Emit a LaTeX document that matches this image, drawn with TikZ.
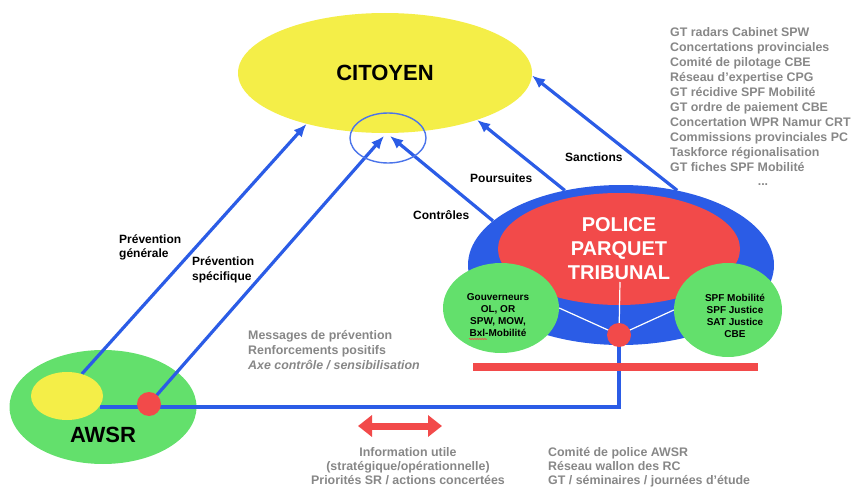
\documentclass[tikz,border=0pt]{standalone}
\usepackage{fontspec}
\setmainfont{Liberation Sans}
\usetikzlibrary{shapes.geometric,arrows.meta,decorations.pathmorphing}
\definecolor{cyell}{HTML}{F4EE48}
\definecolor{cgreen}{HTML}{63E06C}
\definecolor{cblue}{HTML}{2B5CE6}
\definecolor{cred}{HTML}{F24A4A}
\definecolor{cgray}{HTML}{878787}
\pgfdeclarelayer{back}
\pgfdeclarelayer{lines}
\pgfsetlayers{back,lines,main}
\begin{document}
\begin{tikzpicture}[x=1pt,y=-1pt,
  blob/.style={ellipse,inner sep=0pt,draw=none},
  dotnode/.style={circle,fill=cred,minimum size=24pt,inner sep=0pt},
  arr/.style={draw=cblue,line width=3.2pt,-{Latex[length=13pt,width=11pt]}},
  link/.style={draw=cblue,line width=3.2pt},
  fine/.style={draw=white,line width=1.2pt},
  lab/.style={font=\fontsize{12}{14.5}\selectfont\bfseries,inner sep=0pt,align=left,text=black},
  note/.style={font=\fontsize{12.4}{15}\selectfont\bfseries,inner sep=0pt,align=left,text=cgray},
  gtext/.style={font=\fontsize{10}{12.2}\selectfont\bfseries,inner sep=0pt,align=center,text=black},
]
\useasboundingbox (0,0) rectangle (855,487);

\begin{pgfonlayer}{back}
\node[blob,fill=cyell,minimum width=294pt,minimum height=120pt,font=\fontsize{22}{26}\selectfont\bfseries] (cit) at (385,73) {CITOYEN};
\node[blob,fill=cgreen,minimum width=187pt,minimum height=114pt] (awsr) at (103,407) {};
\node[blob,fill=cblue,minimum width=306pt,minimum height=160pt] (pb) at (621,265) {};
\node[blob,fill=cred,minimum width=242pt,minimum height=112pt,text=white,align=center,font=\fontsize{20}{24}\selectfont\bfseries] (ppt) at (619,249) {POLICE\\PARQUET\\TRIBUNAL};
\node[blob,fill=cgreen,minimum width=116pt,minimum height=90pt] (gl) at (501,308) {};
\node[blob,fill=cgreen,minimum width=108pt,minimum height=94pt] (gr) at (728,310) {};
\end{pgfonlayer}

% main layer nodes
\node[ellipse,draw=cblue!85!white,line width=1.4pt,minimum width=76pt,minimum height=50pt,inner sep=0pt] (focus) at (388,138) {};
\node[blob,fill=cyell,minimum width=72pt,minimum height=48pt] (awsrY) at (67,396) {};
\node[dotnode] (adot) at (149,404) {};
\node[dotnode] (rdot) at (619,335) {};
\node[fill=cred,minimum width=285pt,minimum height=8pt,inner sep=0pt] (bar) at (615.5,367) {};
\node[font=\fontsize{22}{26}\selectfont\bfseries] (tawsr) at (103,435) {AWSR};

\node[gtext] (tgl) at (498,315) {Gouverneurs\\OL, OR\\SPW, MOW,\\Bxl-Mobilité};
\node[gtext] (tgr) at (735,316) {SPF Mobilité\\SPF Justice\\SAT Justice\\CBE};
\coordinate (sq1) at (469,339);
\coordinate (sq2) at (487,339);
\draw[cred,line width=0.6pt,decorate,decoration={snake,amplitude=0.6pt,segment length=2.5pt}] (sq1) -- (sq2);

% coordinates
\coordinate (tipA) at (384,136);
\coordinate (tipB) at (390,136);
\coordinate (hl) at (100,407);
\coordinate (wtop) at (620,282);
\coordinate (dl) at (358,426);
\coordinate (dr) at (442,426);

\begin{pgfonlayer}{lines}
\draw[fine] (wtop) -- (rdot.center);
\draw[fine] (gl.east) -- (rdot.center);
\draw[fine] (gr.west) -- (rdot.center);
\draw[link] (rdot.center) |- (hl);
\draw[arr] (awsrY.56) -- (cit.213);
\draw[arr] (adot.center) -- (tipA);
\draw[arr] (pb.161) -- (tipB);
\draw[arr] (pb.127) -- (cit.333);
\draw[arr] (pb.53) -- (cit.359);
\end{pgfonlayer}

\draw[cred,line width=7pt,{Triangle[length=14pt,width=21pt]}-{Triangle[length=14pt,width=21pt]}] (dl) -- (dr);

% labels
\node[lab,anchor=north west] (tpg) at (119,234.3) {Prévention\\générale};
\node[lab,anchor=north west] (tps) at (192,256.5) {Prévention\\spécifique};
\node[lab,anchor=base west] (tctl) at (413,219.3) {Contrôles};
\node[lab,anchor=base west] (tpou) at (470,182.3) {Poursuites};
\node[lab,anchor=base west] (tsan) at (565,161.3) {Sanctions};

\node[note,anchor=north west] (tlist) at (670,27.4) {GT radars Cabinet SPW\\Concertations provinciales\\Comité de pilotage CBE\\Réseau d’expertise CPG\\GT récidive SPF Mobilité\\GT ordre de paiement CBE\\Concertation WPR Namur CRT\\Commissions provinciales PC\\Taskforce régionalisation\\GT fiches SPF Mobilité};
\node[note,anchor=base] (tdots) at (763,185) {...};
\node[note,anchor=north west] (tmsg) at (248,330.4) {Messages de prévention\\Renforcements positifs\\\textit{Axe contrôle / sensibilisation}};
\node[note,anchor=north,align=center,font=\fontsize{12.4}{14}\selectfont\bfseries] (tinfo) at (408,447.4) {Information utile\\(stratégique/opérationnelle)\\Priorités SR / actions concertées};
\node[note,anchor=north west,font=\fontsize{12.4}{14}\selectfont\bfseries] (tcom) at (548,447.4) {Comité de police AWSR\\Réseau wallon des RC\\GT / séminaires / journées d’étude};
\end{tikzpicture}
\end{document}
